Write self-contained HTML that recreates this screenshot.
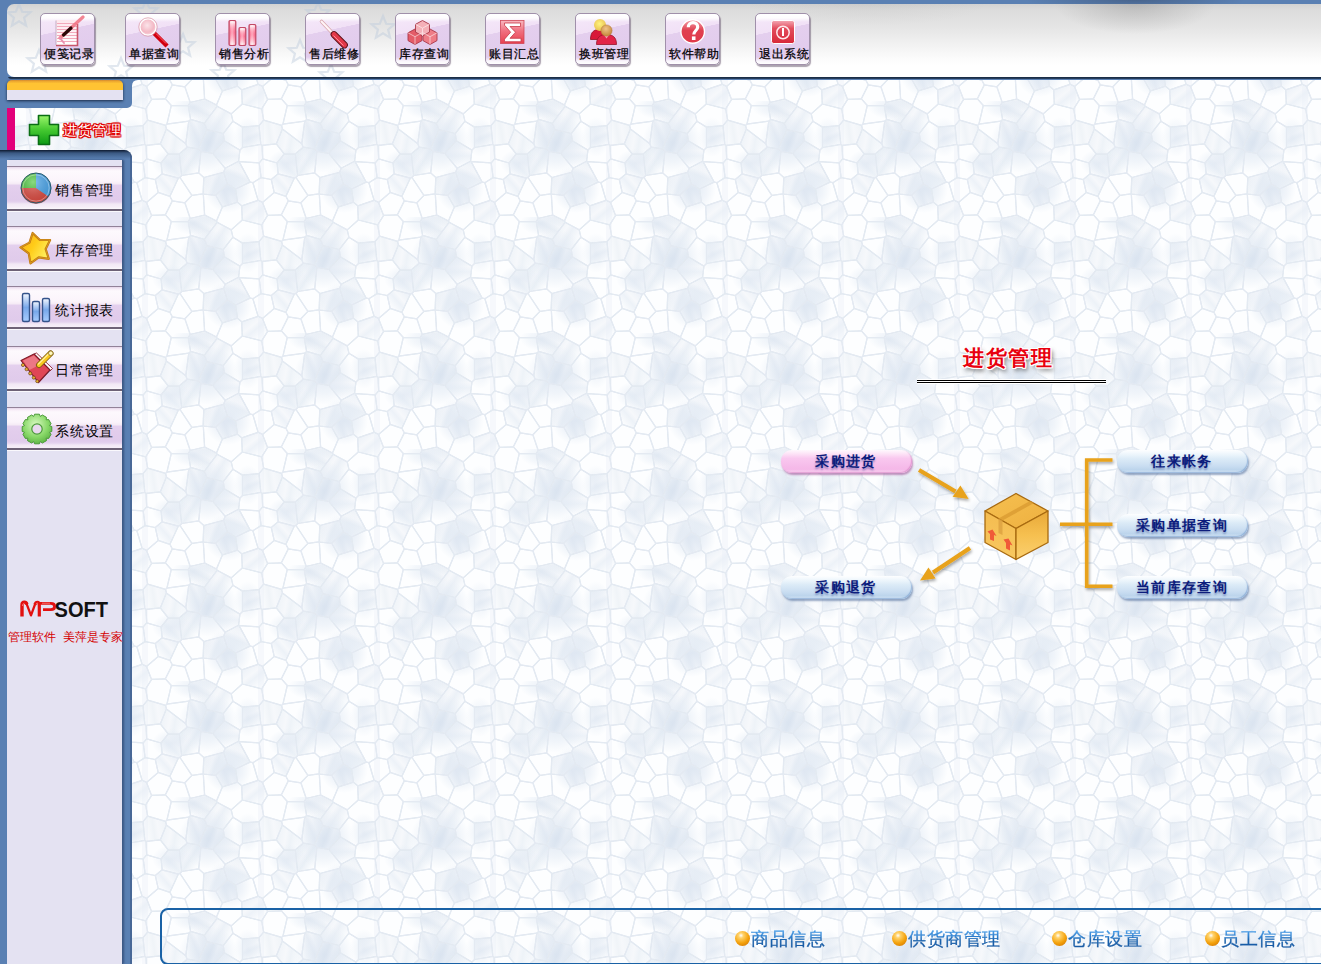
<!DOCTYPE html>
<html><head><meta charset="utf-8"><title>进货管理</title>
<style>
*{box-sizing:border-box;margin:0;padding:0}
html,body{width:1321px;height:964px;overflow:hidden}
body{position:relative;background:#5a80b3;font-family:"Liberation Sans",sans-serif;font-size:12px;color:#000}
.abs{position:absolute}
#topdark{left:1000px;top:0;width:300px;height:12px;background:radial-gradient(ellipse 110px 10px at 135px 0px,rgba(40,50,70,.35),rgba(40,50,70,0))}
#tb{left:7px;top:4px;width:1314px;height:73px;border-radius:7px 0 0 7px;overflow:hidden;
 background:radial-gradient(ellipse 80px 30px at 1128px 0px,rgba(120,120,120,.32),rgba(120,120,120,0)),
 radial-gradient(ellipse 120px 22px at 860px 0px,rgba(120,120,120,.08),rgba(120,120,120,0)),
 linear-gradient(#d2d2d2 0px,#dcdcdc 6px,#e4e4e4 22px,#f1f1f1 40px,#fbfbfb 54px,#fff 62px)}
#tbline{left:8px;top:76px;width:1313px;height:3px;border-bottom-left-radius:6px;background:linear-gradient(rgba(20,35,55,0) 0,rgba(20,35,55,0) 1px,#16263c 1px,#2b4466 3px)}
.btn{top:13px;width:55px;height:52px;border:1px solid #a090aa;border-radius:5px;overflow:hidden;
 background:linear-gradient(180deg,#fff 0,rgba(255,255,255,.9) 4px,rgba(255,255,255,0) 8px),
 linear-gradient(0deg,#fff 0,rgba(255,255,255,.8) 3px,rgba(255,255,255,0) 7px),
 linear-gradient(168deg,#f6e9f9 0%,#f1e1f6 34%,#e4cfee 34.6%,#e0caec 100%);
 box-shadow:1px 2px 1px rgba(70,50,80,.45)}
.btn span{position:absolute;left:3px;right:0;top:33px;text-align:center;font-size:12px;line-height:14px;white-space:nowrap;letter-spacing:0.6px;-webkit-text-stroke:0.25px #000}
.btn svg{position:absolute;left:0;top:0}
#texsvg{left:0;top:0}
#sbtop{left:0;top:79px;width:132px;height:29px;background:#5a80b3;border-bottom-right-radius:5px}
#orange{left:7px;top:80px;width:116px;height:20px;border-radius:5px 5px 0 0;
 background:linear-gradient(#d48a30 0,#eeaa30 1.5px,#ffc333 3.5px,#ffc333 10px,#e4e2f2 10px,#e4e2f2 20px);
 box-shadow:0 1px 3px rgba(15,30,55,.9)}
#pink{left:7px;top:108px;width:8px;height:42px;background:#e2007a}
#sbbot{left:0;top:150px;width:132px;height:814px;background:#5a80b3;border-top-right-radius:8px;overflow:hidden}
#sbbot:before{content:"";position:absolute;left:0;top:0;width:132px;height:9px;background:linear-gradient(rgba(10,20,40,.95),rgba(20,40,70,.45) 3px,rgba(20,40,70,0) 9px)}
#sbbot:after{content:"";position:absolute;right:0;top:0;width:2px;height:814px;background:rgba(40,60,100,.35)}
#list{left:7px;top:160px;width:115px;height:804px;background:#e4e2f2;box-shadow:1px 0 0 #3d5a86,2px 0 2px rgba(30,50,90,.55)}
.item{left:0;width:115px;border-top:1px solid #928298;border-bottom:2px solid #6e6276;box-shadow:0 1px 0 rgba(255,255,255,.8);
 background:linear-gradient(#e6d6ea 0,#f8eef8 2px,#fdf9fd 4px,#fbf4fb 14px,#f6ecf6 16.5px,#e4d0ee 18.5px,#e2cdec 24px,#e0cbeb 33px,#e4d2ee 35px,#f2e8f5 37px,#f6eef8 40px,#fbf8fc 42px)}
.item span{position:absolute;left:48px;top:15px;font-size:14px;line-height:16px;white-space:nowrap;letter-spacing:0.8px}
.item svg{position:absolute;left:0;top:0;overflow:visible}
#tabtext{left:63px;top:121px;font-size:14px;line-height:18px;color:#fff;white-space:nowrap;letter-spacing:0.6px;
 text-shadow:1px 0 0 #e00000,-1px 0 0 #e00000,0 1px 0 #e00000,0 -1px 0 #e00000,1px 1px 0 #e00000,-1px -1px 0 #e00000,1px -1px 0 #e00000,-1px 1px 0 #e00000,0 0 1.5px #d00000,0 0 2px #d00000}
#logo{left:0;top:596px;width:130px;height:50px}
#slogan{left:8px;top:629px;font-size:12px;line-height:16px;color:#d40000;white-space:nowrap;letter-spacing:0px}
#title{left:963px;top:345px;font-size:21px;line-height:26px;font-weight:bold;color:#e8000e;white-space:nowrap;letter-spacing:1.5px;
 text-shadow:1px 0 0 #fff,-1px 0 0 #fff,0 1px 0 #fff,0 -1px 0 #fff,1px 1px 0 #fff,-1px -1px 0 #fff,1px -1px 0 #fff,-1px 1px 0 #fff,2px 3px 4px rgba(60,60,60,.8)}
#dline{left:917px;top:379px;width:189px;height:5px;background:linear-gradient(#fff 0,#fff 1px,#000 1px,#000 2px,#fff 2px,#fff 3px,#000 3px,#000 4px,#fff 4px)}
.pill{width:131px;height:23px;border-radius:11px;text-align:center;font-size:14px;line-height:23px;font-weight:bold;color:#0c1c7c;letter-spacing:1.3px;text-indent:-1px;
 text-shadow:0 2px 2px rgba(40,60,140,.45)}
.pill.blue{background:linear-gradient(#fdfeff 0,#eef6fc 18%,#dcebf7 38%,#c9ddf1 70%,#bcd4ec 86%,#d6e7f6 100%);box-shadow:1px 2px 2px rgba(70,100,150,.55),inset -1px -1px 1px rgba(110,150,200,.55)}
.pill.pinkp{background:linear-gradient(#fff8fd 0,#fde4f7 16%,#f9c8ef 36%,#f6bcea 70%,#f5b8e8 84%,#fad6f3 100%);box-shadow:1px 2px 2px rgba(160,80,150,.6),inset -1px -1px 1px rgba(210,120,190,.55)}
#links{left:160px;top:908px;width:1200px;height:57px;border:2px solid #1a62a6;border-radius:8px}
.lk{top:929px;-webkit-text-stroke:0.3px transparent;font-size:18px;line-height:20px;color:#2a6cb0;white-space:nowrap;letter-spacing:0.5px;background:linear-gradient(#58aaf0 0,#2a7ccc 38%,#1a62ac 55%,#1858a2 100%);-webkit-background-clip:text;background-clip:text;-webkit-text-fill-color:transparent}
.ball{top:931px;width:15px;height:15px;border-radius:50%;background:radial-gradient(circle at 40% 30%,#fff 0,#ffd26a 18%,#f4a20c 55%,#c86a00 100%)}

</style></head><body>
<div id="topdark" class="abs"></div>
<div id="tb" class="abs">
<svg width="1314" height="73" style="position:absolute;left:0;top:0" fill="none" stroke="#bccbdc" stroke-width="2.2" stroke-linejoin="miter" opacity=".45">
<defs><path id="st" d="M0,-12 L3.2,-4.2 L11.4,-3.7 L5.1,1.6 L7.1,9.7 L0,5.2 L-7.1,9.7 L-5.1,1.6 L-11.4,-3.7 L-3.2,-4.2Z"/></defs>
<use href="#st" x="12" y="12"/>
<use href="#st" x="32" y="58"/>
<use href="#st" x="114" y="66"/>
<use href="#st" x="139" y="8"/>
<use href="#st" x="176" y="42"/>
<use href="#st" x="216" y="70"/>
<use href="#st" x="293" y="48"/>
<use href="#st" x="311" y="10"/>
<use href="#st" x="324" y="72"/>
<use href="#st" x="376" y="24"/>
</svg>
</div>
<div id="tbline" class="abs"></div>

<div class="abs btn" style="left:40px">
<svg width="55" height="52">
<defs><linearGradient id="padg" x1="0" y1="0" x2="0" y2="1"><stop offset="0" stop-color="#fde6ec"/><stop offset="1" stop-color="#fff"/></linearGradient></defs>
<rect x="15" y="6" width="22" height="26" fill="url(#padg)"/>
<g stroke="#f3a9bb" stroke-width="1">
<path d="M16,9.5H36M16,12.5H36M16,15.5H36M16,18.5H36M16,21.5H36M16,24.5H36M16,27.5H36"/>
</g>
<path d="M36.5,10V31.5H15" stroke="#c8566a" stroke-width="1.6" fill="none"/>
<path d="M15,6.5V31" stroke="#b8a0b8" stroke-width=".8"/>
<path d="M19,24 L42,3" stroke="#f07080" stroke-width="3.2" stroke-linecap="round" opacity=".85"/>
<path d="M22.5,21 L30,14" stroke="#2a0808" stroke-width="3.2" stroke-linecap="round"/>
<path d="M19,24 L23,29" stroke="#e890b0" stroke-width="2" stroke-linecap="round"/>
</svg>
<span>便笺记录</span></div>

<div class="abs btn" style="left:125px">
<svg width="55" height="52">
<defs><radialGradient id="lens" cx=".45" cy=".4" r=".6"><stop offset="0" stop-color="#fbe4ea"/><stop offset=".7" stop-color="#f3b8c4"/><stop offset="1" stop-color="#f8d8e0"/></radialGradient></defs>
<path d="M29.5,20.5 L39.5,30.5" stroke="#d0000e" stroke-width="4.4" stroke-linecap="square"/>
<path d="M30,19.5 L40,29.5" stroke="#ff6070" stroke-width="1"/>
<circle cx="22" cy="13" r="8.2" fill="url(#lens)" stroke="#fff" stroke-width="1.6"/>
<circle cx="22" cy="13" r="9.2" fill="none" stroke="#d890a0" stroke-width=".7"/>
</svg>
<span>单据查询</span></div>

<div class="abs btn" style="left:215px">
<svg width="55" height="52">
<defs><linearGradient id="barp" x1="0" y1="0" x2="1" y2="0"><stop offset="0" stop-color="#f07090"/><stop offset=".45" stop-color="#fff0f4"/><stop offset="1" stop-color="#f06888"/></linearGradient>
<linearGradient id="barv" x1="0" y1="0" x2="0" y2="1"><stop offset="0" stop-color="#fff" stop-opacity=".9"/><stop offset=".5" stop-color="#ff3060" stop-opacity=".35"/><stop offset="1" stop-color="#fff" stop-opacity=".5"/></linearGradient></defs>
<g stroke="#c24a66" stroke-width="1.2">
<rect x="13" y="6.5" width="6.8" height="25" rx="1.2" fill="url(#barp)"/>
<rect x="23" y="13.5" width="6.8" height="18" rx="1.2" fill="url(#barp)"/>
<rect x="33" y="10.5" width="6.8" height="21" rx="1.2" fill="url(#barp)"/>
</g>
<g fill="url(#barv)"><rect x="14" y="7.5" width="5" height="23"/><rect x="24" y="14.5" width="5" height="16"/><rect x="34" y="11.5" width="5" height="19"/></g>
</svg>
<span>销售分析</span></div>

<div class="abs btn" style="left:305px">
<svg width="55" height="52">
<path d="M15.5,7.5 L25,17.5" stroke="#d8a8b0" stroke-width="3.6" stroke-linecap="round"/>
<path d="M15.5,7.5 L25,17.5" stroke="#fff4f6" stroke-width="2" stroke-linecap="round"/>
<path d="M28,20.5 L38.5,31" stroke="#5a1018" stroke-width="6.8" stroke-linecap="round"/>
<path d="M28,20.5 L38.5,31" stroke="#e23848" stroke-width="5" stroke-linecap="round"/>
<path d="M27.5,21.5 L37.5,31.5" stroke="#ff8a96" stroke-width="1" />
</svg>
<span>售后维修</span></div>

<div class="abs btn" style="left:395px">
<svg width="55" height="52">
<defs><linearGradient id="cube" x1="0" y1="0" x2="0" y2="1"><stop offset="0" stop-color="#f7c4c8"/><stop offset="1" stop-color="#e2505c"/></linearGradient></defs>
<g stroke="#a8384a" stroke-width=".9">
<path d="M19,15 L26,18.8 L26,26.6 L19,30.5 L12,26.6 L12,18.8Z" fill="#e45c68"/>
<path d="M34,15 L41,18.8 L41,26.6 L34,30.5 L27,26.6 L27,18.8Z" fill="#ee7c86"/>
<path d="M26.5,6.5 L33.5,10.3 L33.5,18.1 L26.5,22 L19.5,18.1 L19.5,10.3Z" fill="#f4b0b8"/>
</g>
<g stroke="#fff" stroke-width=".8" opacity=".7" fill="none">
<path d="M19.5,10.3L26.5,14.2L33.5,10.3M26.5,14.2V22"/>
<path d="M12,18.8L19,22.7L26,18.8M19,22.7V30.5"/>
<path d="M27,18.8L34,22.7L41,18.8M34,22.7V30.5"/>
</g>
</svg>
<span>库存查询</span></div>

<div class="abs btn" style="left:485px">
<svg width="55" height="52">
<defs><linearGradient id="sig" x1="0" y1="0" x2="0" y2="1"><stop offset="0" stop-color="#f8b8c0"/><stop offset=".45" stop-color="#f07080"/><stop offset="1" stop-color="#e8404e"/></linearGradient></defs>
<rect x="14.5" y="6.5" width="23.5" height="23" fill="url(#sig)" stroke="#d04858" stroke-width=".8"/>
<path d="M18.5,9 H34.5 V12.5 H24 L29.5,18.2 L24,24.3 H35 V27.7 H18.5 V25.2 L24.6,18.2 L18.5,11.2Z" fill="#fff" stroke="#c83848" stroke-width=".8"/>
</svg>
<span>账目汇总</span></div>

<div class="abs btn" style="left:575px">
<svg width="55" height="52">
<defs><radialGradient id="hy" cx=".45" cy=".4" r=".6"><stop offset="0" stop-color="#fff480"/><stop offset="1" stop-color="#e8c050"/></radialGradient>
<radialGradient id="ht" cx=".45" cy=".35" r=".6"><stop offset="0" stop-color="#f0c488"/><stop offset="1" stop-color="#c88c40"/></radialGradient></defs>
<path d="M14.5,25.5 C14.5,18 18,15.5 23,15.5 C28,15.5 31,18 31,25.5Z" fill="#d81838" stroke="#901020" stroke-width=".8"/>
<circle cx="24" cy="11" r="6" fill="url(#hy)"/>
<path d="M20.5,30.5 C20.5,23 24.5,20.5 30.5,20.5 C36.5,20.5 40.5,23 40.5,30.5Z" fill="#e22448" stroke="#981428" stroke-width=".8"/>
<path d="M28,21 L30.5,24.5 L33,21Z" fill="#f0a0b0"/>
<circle cx="30.5" cy="16.5" r="5.6" fill="url(#ht)" stroke="#b07838" stroke-width=".5"/>
</svg>
<span>换班管理</span></div>

<div class="abs btn" style="left:665px">
<svg width="55" height="52">
<defs><linearGradient id="qg" x1="0" y1="0" x2="0" y2="1"><stop offset="0" stop-color="#f4a0ac"/><stop offset=".45" stop-color="#e04050"/><stop offset="1" stop-color="#e03a4a"/></linearGradient></defs>
<circle cx="26.7" cy="17.5" r="11.8" fill="url(#qg)" stroke="#fff" stroke-width="1.4"/>
<path d="M22.3,13.3 C22.3,10.3 24.3,8.6 27,8.6 C30,8.6 31.7,10.5 31.7,12.9 C31.7,16.3 27.8,16.8 27.8,20.6" fill="none" stroke="#fff" stroke-width="3.2"/>
<rect x="25.9" y="22.4" width="3.6" height="3.6" fill="#fff"/>
</svg>
<span>软件帮助</span></div>

<div class="abs btn" style="left:755px">
<svg width="55" height="52">
<defs><linearGradient id="pg" x1="0" y1="0" x2="0" y2="1"><stop offset="0" stop-color="#f4a8b4"/><stop offset=".35" stop-color="#e24c5c"/><stop offset="1" stop-color="#d82838"/></linearGradient></defs>
<rect x="15.5" y="6.5" width="23" height="23" rx="2.2" fill="url(#pg)" stroke="#fff" stroke-width="1"/>
<circle cx="27" cy="18.5" r="6.2" fill="none" stroke="#ffe8ec" stroke-width="1.5"/>
<rect x="26" y="14" width="2" height="8" fill="#fff"/>
</svg>
<span>退出系统</span></div>

<svg id="texsvg" class="abs" width="1321" height="964">
<defs><pattern id="tx" x="26" y="101" width="116" height="116" patternUnits="userSpaceOnUse"><defs><linearGradient id="c2" gradientTransform="rotate(120 .5 .5)"><stop offset="0" stop-color="#eaeff5"/><stop offset=".35" stop-color="#f6f8fb"/><stop offset=".55" stop-color="#eaeff5"/><stop offset="1" stop-color="#fdfeff"/></linearGradient><linearGradient id="c4" gradientTransform="rotate(30 .5 .5)"><stop offset="0" stop-color="#ecf1f7"/><stop offset=".35" stop-color="#f6f8fb"/><stop offset=".55" stop-color="#ecf1f7"/><stop offset="1" stop-color="#fdfeff"/></linearGradient><linearGradient id="c5" gradientTransform="rotate(170 .5 .5)"><stop offset="0" stop-color="#f0f4f8"/><stop offset=".35" stop-color="#f6f8fb"/><stop offset=".55" stop-color="#f0f4f8"/><stop offset="1" stop-color="#fdfeff"/></linearGradient><linearGradient id="c7" gradientTransform="rotate(150 .5 .5)"><stop offset="0" stop-color="#e9eef5"/><stop offset=".35" stop-color="#f6f8fb"/><stop offset=".55" stop-color="#e9eef5"/><stop offset="1" stop-color="#fdfeff"/></linearGradient><linearGradient id="c8" gradientTransform="rotate(200 .5 .5)"><stop offset="0" stop-color="#dfe7f0"/><stop offset=".35" stop-color="#f6f8fb"/><stop offset=".55" stop-color="#dfe7f0"/><stop offset="1" stop-color="#fdfeff"/></linearGradient><linearGradient id="c10" gradientTransform="rotate(70 .5 .5)"><stop offset="0" stop-color="#ecf1f7"/><stop offset=".35" stop-color="#f6f8fb"/><stop offset=".55" stop-color="#ecf1f7"/><stop offset="1" stop-color="#fdfeff"/></linearGradient><linearGradient id="c11" gradientTransform="rotate(10 .5 .5)"><stop offset="0" stop-color="#eef3f8"/><stop offset=".35" stop-color="#f6f8fb"/><stop offset=".55" stop-color="#eef3f8"/><stop offset="1" stop-color="#fdfeff"/></linearGradient><linearGradient id="c13" gradientTransform="rotate(90 .5 .5)"><stop offset="0" stop-color="#edf2f8"/><stop offset=".35" stop-color="#f6f8fb"/><stop offset=".55" stop-color="#edf2f8"/><stop offset="1" stop-color="#fdfeff"/></linearGradient><linearGradient id="c15" gradientTransform="rotate(130 .5 .5)"><stop offset="0" stop-color="#edf2f8"/><stop offset=".35" stop-color="#f6f8fb"/><stop offset=".55" stop-color="#edf2f8"/><stop offset="1" stop-color="#fdfeff"/></linearGradient><linearGradient id="c16" gradientTransform="rotate(40 .5 .5)"><stop offset="0" stop-color="#eaf0f6"/><stop offset=".35" stop-color="#f6f8fb"/><stop offset=".55" stop-color="#eaf0f6"/><stop offset="1" stop-color="#fdfeff"/></linearGradient><linearGradient id="c21" gradientTransform="rotate(140 .5 .5)"><stop offset="0" stop-color="#edf2f8"/><stop offset=".35" stop-color="#f6f8fb"/><stop offset=".55" stop-color="#edf2f8"/><stop offset="1" stop-color="#fdfeff"/></linearGradient><linearGradient id="c23" gradientTransform="rotate(20 .5 .5)"><stop offset="0" stop-color="#ebf0f6"/><stop offset=".35" stop-color="#f6f8fb"/><stop offset=".55" stop-color="#ebf0f6"/><stop offset="1" stop-color="#fdfeff"/></linearGradient><linearGradient id="c24" gradientTransform="rotate(110 .5 .5)"><stop offset="0" stop-color="#ecf1f7"/><stop offset=".35" stop-color="#f6f8fb"/><stop offset=".55" stop-color="#ecf1f7"/><stop offset="1" stop-color="#fdfeff"/></linearGradient><linearGradient id="c26" gradientTransform="rotate(160 .5 .5)"><stop offset="0" stop-color="#e9eef5"/><stop offset=".35" stop-color="#f6f8fb"/><stop offset=".55" stop-color="#e9eef5"/><stop offset="1" stop-color="#fdfeff"/></linearGradient><linearGradient id="c31" gradientTransform="rotate(50 .5 .5)"><stop offset="0" stop-color="#edf2f8"/><stop offset=".35" stop-color="#f6f8fb"/><stop offset=".55" stop-color="#edf2f8"/><stop offset="1" stop-color="#fdfeff"/></linearGradient></defs><g><polygon points="23.4,-2.2 9.6,-1.6 3.7,7.8 5.6,19.1 23.6,24.4 24.9,23.1 29.3,4.5" fill="#fdfeff"/><polygon points="23.4,113.8 9.6,114.4 3.7,123.8 5.6,135.1 23.6,140.4 24.9,139.1 29.3,120.5" fill="#fdfeff"/><polygon points="29.3,4.5 24.9,23.1 46.8,20.2 48.6,18.4 46.2,4.5" fill="#fdfeff"/><polygon points="46.2,4.5 48.6,18.4 62.3,22.3 75.1,5.3 74.5,4.0 62.6,-2.0 48.2,1.5" fill="url(#c2)"/><polygon points="46.2,120.5 48.6,134.4 62.3,138.3 75.1,121.3 74.5,120.0 62.6,114.0 48.2,117.5" fill="url(#c2)"/><polygon points="3.7,7.8 5.6,19.1 1.0,24.6 -15.5,26.1 -25.1,20.2 -26.8,12.9 -15.7,3.0" fill="#fdfeff"/><polygon points="119.7,7.8 121.6,19.1 117.0,24.6 100.5,26.1 90.9,20.2 89.2,12.9 100.3,3.0" fill="#fdfeff"/><polygon points="81.3,32.5 90.9,20.2 89.2,12.9 75.1,5.3 62.3,22.3 64.9,28.6" fill="url(#c4)"/><polygon points="23.6,24.4 24.4,28.1 18.3,42.9 4.0,44.4 2.8,43.4 1.0,24.6 5.6,19.1" fill="url(#c5)"/><polygon points="23.6,24.4 24.4,28.1 43.8,42.7 46.8,20.2 24.9,23.1" fill="#fdfeff"/><polygon points="56.3,47.9 45.2,46.2 43.8,42.7 46.8,20.2 48.6,18.4 62.3,22.3 64.9,28.6" fill="url(#c7)"/><polygon points="56.3,47.9 64.9,28.6 81.3,32.5 82.3,39.8 70.8,52.3 58.9,50.5" fill="url(#c8)"/><polygon points="81.3,32.5 90.9,20.2 100.5,26.1 100.5,46.5 97.9,49.1 82.3,39.8" fill="#fdfeff"/><polygon points="-15.5,26.1 -15.5,46.5 2.8,43.4 1.0,24.6" fill="url(#c10)"/><polygon points="100.5,26.1 100.5,46.5 118.8,43.4 117.0,24.6" fill="url(#c10)"/><polygon points="24.4,28.1 18.3,42.9 26.3,53.0 37.3,53.0 45.2,46.2 43.8,42.7" fill="url(#c11)"/><polygon points="26.3,53.0 18.3,42.9 4.0,44.4 4.7,57.9 19.1,62.0" fill="#fdfeff"/><polygon points="70.8,52.3 83.2,67.3 96.6,60.3 97.9,49.1 82.3,39.8" fill="url(#c13)"/><polygon points="4.7,57.9 1.2,61.9 -18.9,60.6 -19.4,60.3 -18.1,49.1 -15.5,46.5 2.8,43.4 4.0,44.4" fill="#fdfeff"/><polygon points="120.7,57.9 117.2,61.9 97.1,60.6 96.6,60.3 97.9,49.1 100.5,46.5 118.8,43.4 120.0,44.4" fill="#fdfeff"/><polygon points="36.4,77.1 20.2,72.8 19.1,62.0 26.3,53.0 37.3,53.0 39.6,74.5 38.0,76.5" fill="url(#c15)"/><polygon points="56.3,47.9 45.2,46.2 37.3,53.0 39.6,74.5 56.7,71.9 58.9,50.5" fill="url(#c16)"/><polygon points="19.1,62.0 4.7,57.9 1.2,61.9 3.1,76.6 13.3,78.5 20.2,72.8" fill="#fdfeff"/><polygon points="58.9,50.5 56.7,71.9 61.8,76.5 81.7,71.3 83.2,67.3 70.8,52.3" fill="#fdfeff"/><polygon points="3.1,76.6 -5.1,81.7 -7.9,81.1 -18.9,60.6 1.2,61.9" fill="#fdfeff"/><polygon points="119.1,76.6 110.9,81.7 108.1,81.1 97.1,60.6 117.2,61.9" fill="#fdfeff"/><polygon points="61.1,92.8 61.8,76.5 56.7,71.9 39.6,74.5 38.0,76.5 49.9,94.4" fill="#fdfeff"/><polygon points="36.4,77.1 27.9,95.3 16.2,91.4 13.3,78.5 20.2,72.8" fill="url(#c21)"/><polygon points="16.2,91.4 4.5,101.4 0.1,99.3 -5.1,81.7 3.1,76.6 13.3,78.5" fill="#fdfeff"/><polygon points="132.2,91.4 120.5,101.4 116.1,99.3 110.9,81.7 119.1,76.6 129.3,78.5" fill="#fdfeff"/><polygon points="61.1,92.8 61.8,76.5 81.7,71.3 85.3,82.7 73.7,94.3 61.3,93.0" fill="url(#c23)"/><polygon points="108.1,81.1 93.6,88.0 85.3,82.7 81.7,71.3 83.2,67.3 96.6,60.3 97.1,60.6" fill="url(#c24)"/><polygon points="0.1,99.3 -16.3,104.8 -20.5,101.2 -22.4,88.0 -7.9,81.1 -5.1,81.7" fill="#fdfeff"/><polygon points="116.1,99.3 99.7,104.8 95.5,101.2 93.6,88.0 108.1,81.1 110.9,81.7" fill="#fdfeff"/><polygon points="85.3,82.7 93.6,88.0 95.5,101.2 80.4,105.9 73.7,94.3" fill="url(#c26)"/><polygon points="49.9,94.4 38.0,76.5 36.4,77.1 27.9,95.3 30.3,99.9 42.9,101.8" fill="#fdfeff"/><polygon points="61.1,-23.2 49.9,-21.6 42.9,-14.2 48.2,1.5 62.6,-2.0 61.3,-23.0" fill="#fdfeff"/><polygon points="61.1,92.8 49.9,94.4 42.9,101.8 48.2,117.5 62.6,114.0 61.3,93.0" fill="#fdfeff"/><polygon points="27.9,95.3 30.3,99.9 23.4,113.8 9.6,114.4 4.5,101.4 16.2,91.4" fill="#fdfeff"/><polygon points="61.3,-23.0 73.7,-21.7 80.4,-10.1 74.5,4.0 62.6,-2.0" fill="#fdfeff"/><polygon points="61.3,93.0 73.7,94.3 80.4,105.9 74.5,120.0 62.6,114.0" fill="#fdfeff"/><polygon points="4.5,-14.6 0.1,-16.7 -16.3,-11.2 -15.7,3.0 3.7,7.8 9.6,-1.6" fill="url(#c31)"/><polygon points="4.5,101.4 0.1,99.3 -16.3,104.8 -15.7,119.0 3.7,123.8 9.6,114.4" fill="url(#c31)"/><polygon points="120.5,-14.6 116.1,-16.7 99.7,-11.2 100.3,3.0 119.7,7.8 125.6,-1.6" fill="url(#c31)"/><polygon points="120.5,101.4 116.1,99.3 99.7,104.8 100.3,119.0 119.7,123.8 125.6,114.4" fill="url(#c31)"/><polygon points="74.5,4.0 80.4,-10.1 95.5,-14.8 99.7,-11.2 100.3,3.0 89.2,12.9 75.1,5.3" fill="#fdfeff"/><polygon points="74.5,120.0 80.4,105.9 95.5,101.2 99.7,104.8 100.3,119.0 89.2,128.9 75.1,121.3" fill="#fdfeff"/><polygon points="42.9,-14.2 30.3,-16.1 23.4,-2.2 29.3,4.5 46.2,4.5 48.2,1.5" fill="#fdfeff"/><polygon points="42.9,101.8 30.3,99.9 23.4,113.8 29.3,120.5 46.2,120.5 48.2,117.5" fill="#fdfeff"/></g><defs><radialGradient id="bl1"><stop offset="0" stop-color="#d9e3f0" stop-opacity=".8"/><stop offset=".6" stop-color="#dfe8f3" stop-opacity=".45"/><stop offset="1" stop-color="#dfe8f3" stop-opacity="0"/></radialGradient></defs><ellipse cx="66" cy="42" rx="30" ry="30" fill="url(#bl1)"/><ellipse cx="86" cy="88" rx="24" ry="24" fill="url(#bl1)"/><ellipse cx="30" cy="62" rx="20" ry="14" fill="url(#bl1)" opacity=".7"/><ellipse cx="52" cy="6" rx="22" ry="12" fill="url(#bl1)" opacity=".7"/><ellipse cx="106" cy="36" rx="14" ry="20" fill="url(#bl1)" opacity=".6"/><rect x="0" y="0" width="6" height="116" fill="#e6edf5" opacity=".35"/><filter id="lb" x="-5%" y="-5%" width="110%" height="110%"><feGaussianBlur stdDeviation=".35"/></filter><g fill="none" stroke="#e4eaf2" stroke-width="1.25" stroke-linejoin="round" filter="url(#lb)"><polygon points="23.4,-2.2 9.6,-1.6 3.7,7.8 5.6,19.1 23.6,24.4 24.9,23.1 29.3,4.5"/><polygon points="23.4,113.8 9.6,114.4 3.7,123.8 5.6,135.1 23.6,140.4 24.9,139.1 29.3,120.5"/><polygon points="29.3,4.5 24.9,23.1 46.8,20.2 48.6,18.4 46.2,4.5"/><polygon points="46.2,4.5 48.6,18.4 62.3,22.3 75.1,5.3 74.5,4.0 62.6,-2.0 48.2,1.5"/><polygon points="46.2,120.5 48.6,134.4 62.3,138.3 75.1,121.3 74.5,120.0 62.6,114.0 48.2,117.5"/><polygon points="3.7,7.8 5.6,19.1 1.0,24.6 -15.5,26.1 -25.1,20.2 -26.8,12.9 -15.7,3.0"/><polygon points="119.7,7.8 121.6,19.1 117.0,24.6 100.5,26.1 90.9,20.2 89.2,12.9 100.3,3.0"/><polygon points="81.3,32.5 90.9,20.2 89.2,12.9 75.1,5.3 62.3,22.3 64.9,28.6"/><polygon points="23.6,24.4 24.4,28.1 18.3,42.9 4.0,44.4 2.8,43.4 1.0,24.6 5.6,19.1"/><polygon points="23.6,24.4 24.4,28.1 43.8,42.7 46.8,20.2 24.9,23.1"/><polygon points="56.3,47.9 45.2,46.2 43.8,42.7 46.8,20.2 48.6,18.4 62.3,22.3 64.9,28.6"/><polygon points="56.3,47.9 64.9,28.6 81.3,32.5 82.3,39.8 70.8,52.3 58.9,50.5"/><polygon points="81.3,32.5 90.9,20.2 100.5,26.1 100.5,46.5 97.9,49.1 82.3,39.8"/><polygon points="-15.5,26.1 -15.5,46.5 2.8,43.4 1.0,24.6"/><polygon points="100.5,26.1 100.5,46.5 118.8,43.4 117.0,24.6"/><polygon points="24.4,28.1 18.3,42.9 26.3,53.0 37.3,53.0 45.2,46.2 43.8,42.7"/><polygon points="26.3,53.0 18.3,42.9 4.0,44.4 4.7,57.9 19.1,62.0"/><polygon points="70.8,52.3 83.2,67.3 96.6,60.3 97.9,49.1 82.3,39.8"/><polygon points="4.7,57.9 1.2,61.9 -18.9,60.6 -19.4,60.3 -18.1,49.1 -15.5,46.5 2.8,43.4 4.0,44.4"/><polygon points="120.7,57.9 117.2,61.9 97.1,60.6 96.6,60.3 97.9,49.1 100.5,46.5 118.8,43.4 120.0,44.4"/><polygon points="36.4,77.1 20.2,72.8 19.1,62.0 26.3,53.0 37.3,53.0 39.6,74.5 38.0,76.5"/><polygon points="56.3,47.9 45.2,46.2 37.3,53.0 39.6,74.5 56.7,71.9 58.9,50.5"/><polygon points="19.1,62.0 4.7,57.9 1.2,61.9 3.1,76.6 13.3,78.5 20.2,72.8"/><polygon points="58.9,50.5 56.7,71.9 61.8,76.5 81.7,71.3 83.2,67.3 70.8,52.3"/><polygon points="3.1,76.6 -5.1,81.7 -7.9,81.1 -18.9,60.6 1.2,61.9"/><polygon points="119.1,76.6 110.9,81.7 108.1,81.1 97.1,60.6 117.2,61.9"/><polygon points="61.1,92.8 61.8,76.5 56.7,71.9 39.6,74.5 38.0,76.5 49.9,94.4"/><polygon points="36.4,77.1 27.9,95.3 16.2,91.4 13.3,78.5 20.2,72.8"/><polygon points="16.2,91.4 4.5,101.4 0.1,99.3 -5.1,81.7 3.1,76.6 13.3,78.5"/><polygon points="132.2,91.4 120.5,101.4 116.1,99.3 110.9,81.7 119.1,76.6 129.3,78.5"/><polygon points="61.1,92.8 61.8,76.5 81.7,71.3 85.3,82.7 73.7,94.3 61.3,93.0"/><polygon points="108.1,81.1 93.6,88.0 85.3,82.7 81.7,71.3 83.2,67.3 96.6,60.3 97.1,60.6"/><polygon points="0.1,99.3 -16.3,104.8 -20.5,101.2 -22.4,88.0 -7.9,81.1 -5.1,81.7"/><polygon points="116.1,99.3 99.7,104.8 95.5,101.2 93.6,88.0 108.1,81.1 110.9,81.7"/><polygon points="85.3,82.7 93.6,88.0 95.5,101.2 80.4,105.9 73.7,94.3"/><polygon points="49.9,94.4 38.0,76.5 36.4,77.1 27.9,95.3 30.3,99.9 42.9,101.8"/><polygon points="61.1,-23.2 49.9,-21.6 42.9,-14.2 48.2,1.5 62.6,-2.0 61.3,-23.0"/><polygon points="61.1,92.8 49.9,94.4 42.9,101.8 48.2,117.5 62.6,114.0 61.3,93.0"/><polygon points="27.9,95.3 30.3,99.9 23.4,113.8 9.6,114.4 4.5,101.4 16.2,91.4"/><polygon points="61.3,-23.0 73.7,-21.7 80.4,-10.1 74.5,4.0 62.6,-2.0"/><polygon points="61.3,93.0 73.7,94.3 80.4,105.9 74.5,120.0 62.6,114.0"/><polygon points="4.5,-14.6 0.1,-16.7 -16.3,-11.2 -15.7,3.0 3.7,7.8 9.6,-1.6"/><polygon points="4.5,101.4 0.1,99.3 -16.3,104.8 -15.7,119.0 3.7,123.8 9.6,114.4"/><polygon points="120.5,-14.6 116.1,-16.7 99.7,-11.2 100.3,3.0 119.7,7.8 125.6,-1.6"/><polygon points="120.5,101.4 116.1,99.3 99.7,104.8 100.3,119.0 119.7,123.8 125.6,114.4"/><polygon points="74.5,4.0 80.4,-10.1 95.5,-14.8 99.7,-11.2 100.3,3.0 89.2,12.9 75.1,5.3"/><polygon points="74.5,120.0 80.4,105.9 95.5,101.2 99.7,104.8 100.3,119.0 89.2,128.9 75.1,121.3"/><polygon points="42.9,-14.2 30.3,-16.1 23.4,-2.2 29.3,4.5 46.2,4.5 48.2,1.5"/><polygon points="42.9,101.8 30.3,99.9 23.4,113.8 29.3,120.5 46.2,120.5 48.2,117.5"/></g></pattern></defs>
<path d="M138,80 H1321 V964 H132 V156 H7 V100 H132 V86 Q132,80 138,80Z" fill="url(#tx)"/>
</svg>
<div id="sbtop" class="abs"></div>
<div id="orange" class="abs"></div>
<div id="pink" class="abs"></div>
<svg class="abs" style="left:28px;top:114px" width="32" height="32">
<defs><linearGradient id="gplus" x1="0" y1="0" x2="0" y2="1"><stop offset="0" stop-color="#9af56a"/><stop offset=".5" stop-color="#44c830"/><stop offset="1" stop-color="#0c9a14"/></linearGradient></defs>
<path d="M10.5,1.5 H21.5 V10.5 H30.5 V21.5 H21.5 V30.5 H10.5 V21.5 H1.5 V10.5 H10.5Z" fill="url(#gplus)" stroke="#0a6e14" stroke-width="1.6" stroke-linejoin="round"/>
</svg>
<div id="tabtext" class="abs">进货管理</div>
<div id="sbbot" class="abs"></div>
<div id="list" class="abs">
 <div class="abs item" style="top:6px;height:45px">
  <svg width="115" height="42">
   <defs><radialGradient id="pieshade" cx=".4" cy=".3" r=".8"><stop offset="0" stop-color="#fff" stop-opacity=".35"/><stop offset="1" stop-color="#000" stop-opacity=".1"/></radialGradient></defs>
   <ellipse cx="29" cy="22" rx="15" ry="15" fill="#8a2a2a" opacity=".5"/>
   <path d="M29,21 L29,6 A15,15 0 0,0 14,21Z" fill="#4cc83c"/>
   <path d="M29,21 L14,21 A15,15 0 0,0 41.5,29.5Z" fill="#e04a40"/>
   <path d="M29,21 L41.5,29.5 A15,15 0 0,0 29,6Z" fill="#4aa8f0"/>
   <circle cx="29" cy="21" r="15" fill="url(#pieshade)" stroke="#2a5a6a" stroke-width="1"/>
   <circle cx="29" cy="21" r="13.2" fill="none" stroke="#fff" stroke-opacity=".35" stroke-width="1"/>
  </svg>
  <span>销售管理</span></div>
 <div class="abs item" style="top:66px;height:45px">
  <svg width="115" height="42">
   <defs><linearGradient id="starg" x1="0" y1="0" x2="1" y2=".6"><stop offset="0" stop-color="#f8a820"/><stop offset=".5" stop-color="#ffcc18"/><stop offset="1" stop-color="#fff060"/></linearGradient></defs>
   <path d="M25.6,6.0 L32.9,13.0 L43.1,13.0 L38.7,22.1 L41.8,31.8 L31.7,30.4 L23.5,36.3 L21.7,26.4 L13.5,20.4 L22.5,15.6Z" fill="url(#starg)" stroke="#c07810" stroke-width="2.2" stroke-linejoin="round"/><path d="M25.6,6.0 L32.9,13.0 L43.1,13.0 L38.7,22.1 L41.8,31.8 L31.7,30.4 L23.5,36.3 L21.7,26.4 L13.5,20.4 L22.5,15.6Z" fill="none" stroke="#ffd040" stroke-width=".6" stroke-linejoin="round" opacity=".6"/>
  </svg>
  <span>库存管理</span></div>
 <div class="abs item" style="top:126px;height:43px">
  <svg width="115" height="42">
   <defs><linearGradient id="bluebar" x1="0" y1="0" x2="0" y2="1"><stop offset="0" stop-color="#f4f8ff"/><stop offset=".5" stop-color="#78a8ea"/><stop offset="1" stop-color="#a8ccff"/></linearGradient></defs>
   <g fill="url(#bluebar)" stroke="#34538a" stroke-width="1.4">
    <rect x="15.5" y="6.5" width="7" height="28" rx="1.5"/>
    <rect x="25.5" y="14.5" width="7" height="20" rx="1.5"/>
    <rect x="35.5" y="11.5" width="7" height="23" rx="1.5"/>
   </g>
  </svg>
  <span>统计报表</span></div>
 <div class="abs item" style="top:186px;height:45px">
  <svg width="115" height="42">
   <path d="M27,7 L29.5,6 L45.5,21.5 L43,24Z" fill="#fff" stroke="#8a1e2c" stroke-width=".9"/>
   <path d="M40,22 L43,24 L32,35" fill="none" stroke="#9ac0f0" stroke-width="1"/>
   <path d="M14,13.5 L27,7 L43,23 L31.5,35.5Z" fill="#e04656" stroke="#7e1a28" stroke-width="1.2" stroke-linejoin="round"/>
   <path d="M16,13.5 L27,8.5 L35,16.5 L22.5,23Z" fill="#f8a8b4" opacity=".5"/>
   <g fill="#e8b030" stroke="#5a3010" stroke-width=".6"><circle cx="16" cy="18" r="1.6"/><circle cx="19.6" cy="22.2" r="1.6"/><circle cx="23.2" cy="26.4" r="1.6"/><circle cx="26.8" cy="30.6" r="1.6"/><circle cx="30.2" cy="34.2" r="1.5"/></g>
   <path d="M32,18 L43.5,6.5" stroke="#7a5a10" stroke-width="6" stroke-linecap="round"/>
   <path d="M32,18 L43.5,6.5" stroke="#f8c820" stroke-width="4.4" stroke-linecap="round"/>
   <path d="M31.5,17 L42.5,6" stroke="#fff0a0" stroke-width="1.2" stroke-linecap="round"/>
   <circle cx="43.8" cy="6.2" r="2.3" fill="#fff8c0" stroke="#8a6a10" stroke-width=".8"/>
  </svg>
  <span>日常管理</span></div>
 <div class="abs item" style="top:247px;height:43px">
  <svg width="115" height="42">
   <defs><radialGradient id="gearg" cx=".45" cy=".35" r=".7"><stop offset="0" stop-color="#d8f8c0"/><stop offset=".6" stop-color="#88d868"/><stop offset="1" stop-color="#58b040"/></radialGradient></defs>
   <g transform="translate(30,21)">
    <path d="M14.81,-2.39 L14.81,2.39 L12.56,3.34 L12.55,3.39 L14.02,5.33 L11.63,9.47 L9.21,9.18 L9.18,9.21 L9.47,11.63 L5.33,14.02 L3.39,12.55 L3.34,12.56 L2.39,14.81 L-2.39,14.81 L-3.34,12.56 L-3.39,12.55 L-5.33,14.02 L-9.47,11.63 L-9.18,9.21 L-9.21,9.18 L-11.63,9.47 L-14.02,5.33 L-12.55,3.39 L-12.56,3.34 L-14.81,2.39 L-14.81,-2.39 L-12.56,-3.34 L-12.55,-3.39 L-14.02,-5.33 L-11.63,-9.47 L-9.21,-9.18 L-9.18,-9.21 L-9.47,-11.63 L-5.33,-14.02 L-3.39,-12.55 L-3.34,-12.56 L-2.39,-14.81 L2.39,-14.81 L3.34,-12.56 L3.39,-12.55 L5.33,-14.02 L9.47,-11.63 L9.18,-9.21 L9.21,-9.18 L11.63,-9.47 L14.02,-5.33 L12.55,-3.39 L12.56,-3.34Z" fill="url(#gearg)" stroke="#4a9a38" stroke-width="1"/>
    <circle r="5.2" fill="#e8d8ee" stroke="#4a9a38" stroke-width="1.2"/>
   </g>
  </svg>
  <span>系统设置</span></div>
</div>
<svg id="logo" class="abs" width="130" height="30" style="top:598px">
 <g fill="none" stroke="#e21010" stroke-linecap="butt" stroke-linejoin="round">
  <path d="M22,18.6 V7.2 Q22,4.3 24.4,4.3 Q26.2,4.3 26.9,6.4" stroke-width="3.4"/>
  <path d="M26.6,5.8 L31,17.4 L35.1,6.2" stroke-width="2.3"/>
  <path d="M34.9,6.6 Q35.7,4.3 37.4,4.3 Q39.3,4.3 39.3,7.2 V18.6" stroke-width="3.2"/>
  <path d="M40,5.4 H50.8 Q54.6,5.4 54.6,8.4 Q54.6,11.6 50.8,11.6 H43" stroke-width="2.9"/>
 </g>
 <g fill="none" stroke="#ff9a9a" stroke-width=".9" opacity=".8"><path d="M22.3,8 Q22.5,5.5 24.4,5.3"/><path d="M36,6 Q36.8,5 38,5.2"/><path d="M42,5.2 H50"/></g>
 <text x="54.5" y="19.3" font-family="Liberation Sans" font-weight="bold" font-size="21.5" fill="#111" textLength="53.5" lengthAdjust="spacingAndGlyphs">SOFT</text>
</svg>
<div id="slogan" class="abs">管理软件&nbsp;&nbsp;美萍是专家</div>

<div id="title" class="abs">进货管理</div>
<div id="dline" class="abs"></div>
<div class="abs pill pinkp" style="left:781px;top:450px">采购进货</div>
<div class="abs pill blue" style="left:781px;top:576px">采购退货</div>
<div class="abs pill blue" style="left:1117px;top:450px">往来帐务</div>
<div class="abs pill blue" style="left:1117px;top:514px">采购单据查询</div>
<div class="abs pill blue" style="left:1117px;top:576px">当前库存查询</div>
<svg class="abs" style="left:0;top:0" width="1321" height="964">
 <defs>
  <filter id="shd" x="-20%" y="-20%" width="140%" height="140%"><feGaussianBlur in="SourceAlpha" stdDeviation="1.5"/><feOffset dx="1" dy="2"/><feComponentTransfer><feFuncA type="linear" slope=".35"/></feComponentTransfer><feMerge><feMergeNode/><feMergeNode in="SourceGraphic"/></feMerge></filter>
  <linearGradient id="boxR" x1="0" y1="0" x2="0" y2="1"><stop offset="0" stop-color="#e8a838"/><stop offset=".5" stop-color="#f6c050"/><stop offset="1" stop-color="#fbd070"/></linearGradient>
  <linearGradient id="boxL" x1="0" y1="0" x2="0" y2="1"><stop offset="0" stop-color="#f4bc50"/><stop offset="1" stop-color="#f8c860"/></linearGradient>
  <linearGradient id="boxT" x1="0" y1="0" x2="1" y2="1"><stop offset="0" stop-color="#f6c050"/><stop offset="1" stop-color="#eeb040"/></linearGradient>
 </defs>
 <g filter="url(#shd)" fill="#e8a21a" stroke="none">
  <path d="M919,470 L955.5,491.5" stroke="#e8a21a" stroke-width="4.2"/>
  <path d="M968.7,499 L952.6,496.8 L960.4,485.6Z"/>
  <path d="M970,548 L933,572.5" stroke="#e8a21a" stroke-width="4.2"/>
  <path d="M920,580.5 L928.5,567.5 L935.6,578.6Z"/>
  <path d="M1112.5,460 H1086.7 V586.3 H1112.5 M1060,524.3 H1112.5" stroke="#e8a21a" stroke-width="3.6" fill="none" stroke-linejoin="miter"/>
 </g>
 <g stroke="#a86a10" stroke-width="1.3" stroke-linejoin="round">
  <path d="M1016,493.5 L1048,511 L1016,528.5 L985,511Z" fill="url(#boxT)"/>
  <path d="M985,511 L1016,528.5 L1016,559.5 L985,542.5Z" fill="url(#boxL)"/>
  <path d="M1016,528.5 L1048,511 L1048,542.5 L1016,559.5Z" fill="url(#boxR)"/>
 </g>
 <path d="M998.5,518.5 L1030,501 L1034,503 L1002.5,520.5Z" fill="#d89a30" opacity=".75"/>
 <path d="M998.5,518.5 L1002.5,520.5 L1002.5,535 L998.5,533Z" fill="#dca040" opacity=".8"/>
 <g fill="#f05a38">
  <path d="M987.5,531.5 L992.5,529.5 L996.5,536 L994,535 L994,541 L990,539.5 L990,534Z"/>
  <path d="M1003.5,539.5 L1008.5,538.5 L1012.5,545.5 L1010,544.5 L1010,550.5 L1006,548.5 L1006,543Z"/>
 </g>
</svg>
<div id="links" class="abs"></div>
<div class="abs ball" style="left:735px"></div><div class="abs lk" style="left:751px">商品信息</div>
<div class="abs ball" style="left:892px"></div><div class="abs lk" style="left:908px">供货商管理</div>
<div class="abs ball" style="left:1052px"></div><div class="abs lk" style="left:1068px">仓库设置</div>
<div class="abs ball" style="left:1205px"></div><div class="abs lk" style="left:1221px">员工信息</div>

</body></html>
